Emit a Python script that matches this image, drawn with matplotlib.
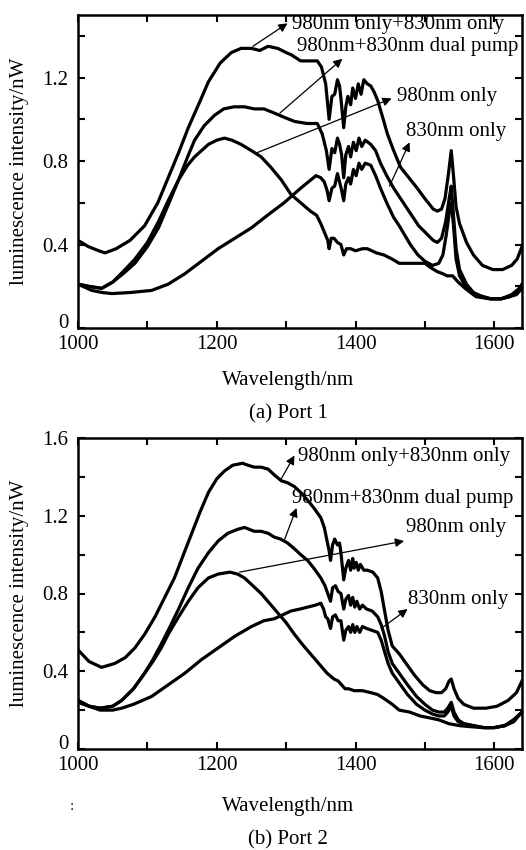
import matplotlib
matplotlib.use("Agg")
import matplotlib.pyplot as plt
import matplotlib.transforms as mtrans

plt.rcParams['font.family'] = ['Liberation Serif', 'DejaVu Serif']
plt.rcParams['mathtext.fontset'] = 'stix'

# ---------------- Port 1 data ----------------
p1_sum_wl = [1000,1015,1030,1039,1055,1075,1096,1115,1130,1145,1159,1175,1188,1205,1221,1235,1250,1262,1274,1288,
             1300,1307,1321,1335,1345,1351,1357,1362,1366,1370,1374,1377,1379,1383,1386,1389,1393,1396,1400,1404,
             1408,1412,1417,1422,1427,1432,1440,1446,1455,1465,1477,1489,1500,1512,1518,1524,1529,1534,1538,1541,
             1545,1550,1560,1570,1583,1598,1612,1625,1633,1640]
p1_sum = [0.42,0.39,0.37,0.36,0.38,0.42,0.49,0.60,0.72,0.84,0.96,1.08,1.18,1.27,1.32,1.34,1.34,1.33,1.35,1.34,
          1.32,1.31,1.28,1.28,1.28,1.25,1.17,1.00,1.11,1.12,1.19,1.16,1.10,0.96,1.06,1.11,1.07,1.15,1.10,1.17,
          1.12,1.19,1.17,1.16,1.13,1.09,1.00,0.93,0.85,0.77,0.72,0.67,0.62,0.57,0.56,0.57,0.62,0.74,0.85,0.74,
          0.58,0.50,0.41,0.35,0.30,0.28,0.28,0.30,0.33,0.39]

p1_dual_wl = [1000,1015,1034,1050,1065,1082,1100,1116,1130,1145,1158,1168,1182,1197,1210,1225,1240,1254,1268,1283,
              1297,1312,1330,1345,1352,1358,1362,1366,1370,1374,1377,1380,1383,1386,1390,1393,1397,1401,1405,1409,
              1414,1422,1429,1436,1445,1455,1467,1479,1491,1503,1512,1518,1524,1530,1535,1538,1541,1545,1550,1560,
              1570,1580,1595,1610,1622,1632,1640]
p1_dual = [0.21,0.20,0.19,0.22,0.26,0.31,0.39,0.48,0.59,0.71,0.82,0.90,0.97,1.02,1.05,1.06,1.06,1.05,1.05,1.03,
           1.01,0.99,0.98,0.98,0.93,0.85,0.76,0.86,0.84,0.91,0.88,0.83,0.72,0.83,0.87,0.82,0.89,0.85,0.91,0.87,
           0.90,0.88,0.85,0.79,0.73,0.67,0.61,0.55,0.49,0.45,0.42,0.41,0.43,0.51,0.62,0.68,0.55,0.38,0.28,0.21,
           0.17,0.155,0.14,0.14,0.15,0.17,0.21]

p1_980_wl = [1000,1015,1034,1050,1065,1082,1100,1116,1130,1145,1158,1168,1188,1200,1211,1222,1235,1250,1264,1278,
             1293,1307,1321,1335,1344,1350,1355,1360,1362,1365,1369,1374,1379,1383,1387,1393,1400,1410,1417,1430,
             1441,1453,1463,1480,1500,1508,1518,1526,1532,1540,1548,1558,1574,1593,1610,1625,1640]
p1_980 = [0.21,0.20,0.19,0.22,0.27,0.33,0.41,0.51,0.61,0.71,0.78,0.82,0.88,0.90,0.91,0.90,0.88,0.85,0.82,0.77,
          0.71,0.64,0.60,0.56,0.54,0.50,0.46,0.42,0.38,0.43,0.43,0.41,0.40,0.35,0.38,0.38,0.37,0.38,0.38,0.36,
          0.35,0.33,0.31,0.31,0.31,0.29,0.27,0.26,0.25,0.25,0.22,0.19,0.15,0.14,0.14,0.16,0.20]

p1_830_wl = [1000,1020,1035,1049,1075,1106,1130,1154,1178,1202,1226,1250,1273,1297,1321,1343,1350,1355,1359,1362,
             1366,1370,1374,1377,1380,1383,1386,1390,1393,1397,1401,1405,1409,1414,1422,1429,1436,1445,1455,1463,
             1479,1490,1500,1511,1520,1526,1531,1535,1538,1541,1545,1550,1560,1570,1580,1595,1610,1622,1632,1640]
p1_830 = [0.21,0.18,0.17,0.165,0.17,0.18,0.21,0.26,0.32,0.38,0.43,0.48,0.54,0.60,0.67,0.73,0.72,0.70,0.66,0.61,
          0.67,0.68,0.74,0.70,0.66,0.61,0.69,0.72,0.69,0.76,0.73,0.79,0.76,0.79,0.78,0.73,0.67,0.60,0.53,0.49,
          0.40,0.35,0.32,0.30,0.31,0.35,0.45,0.55,0.60,0.50,0.33,0.25,0.19,0.16,0.15,0.14,0.14,0.15,0.16,0.19]

# ---------------- Port 2 data ----------------
p2_sum_wl = [1000,1016,1034,1053,1068,1082,1096,1111,1125,1139,1152,1164,1176,1188,1200,1211,1223,1237,1245,1254,
             1264,1274,1283,1293,1302,1312,1321,1331,1340,1350,1355,1359,1362,1364,1367,1370,1374,1377,1379,1381,
             1383,1386,1390,1393,1396,1398,1401,1404,1407,1412,1417,1425,1432,1437,1442,1447,1453,1463,1473,1485,
             1497,1507,1516,1524,1530,1535,1538,1542,1548,1556,1570,1588,1604,1620,1632,1640]
p2_sum = [0.51,0.45,0.42,0.44,0.47,0.52,0.59,0.68,0.78,0.88,1.00,1.11,1.22,1.32,1.39,1.43,1.46,1.47,1.46,1.45,
          1.45,1.44,1.41,1.38,1.37,1.35,1.32,1.28,1.24,1.19,1.14,1.07,1.02,0.97,1.05,1.08,1.05,1.06,1.01,0.94,
          0.87,0.93,0.97,0.92,0.98,0.93,0.96,0.92,0.95,0.92,0.92,0.91,0.88,0.81,0.71,0.61,0.53,0.49,0.44,0.38,
          0.33,0.30,0.29,0.29,0.31,0.35,0.36,0.31,0.26,0.23,0.21,0.21,0.22,0.25,0.29,0.35]

p2_dual_wl = [1000,1016,1032,1050,1063,1080,1096,1108,1120,1130,1145,1159,1173,1188,1202,1216,1230,1240,1254,1264,
              1274,1283,1292,1302,1312,1321,1331,1340,1350,1356,1360,1364,1367,1371,1375,1379,1381,1383,1386,1390,
              1393,1396,1399,1402,1406,1410,1416,1424,1432,1437,1442,1447,1453,1463,1475,1488,1500,1511,1520,1528,
              1533,1538,1542,1548,1556,1570,1585,1600,1615,1628,1640]
p2_dual = [0.25,0.22,0.21,0.22,0.25,0.31,0.39,0.46,0.54,0.61,0.72,0.83,0.93,1.01,1.07,1.11,1.13,1.14,1.12,1.12,
           1.11,1.09,1.08,1.06,1.03,1.00,0.97,0.93,0.88,0.84,0.80,0.76,0.83,0.84,0.81,0.80,0.76,0.72,0.77,0.79,
           0.74,0.78,0.73,0.76,0.72,0.74,0.72,0.71,0.68,0.64,0.58,0.50,0.44,0.39,0.33,0.27,0.23,0.20,0.19,0.19,
           0.21,0.24,0.19,0.15,0.13,0.12,0.11,0.11,0.12,0.15,0.19]

p2_980_wl = [1000,1016,1032,1050,1063,1080,1096,1108,1120,1130,1145,1159,1173,1188,1202,1219,1230,1240,1252,1264,
             1276,1288,1300,1312,1323,1335,1347,1359,1369,1375,1380,1385,1390,1398,1410,1422,1432,1441,1453,1463,
             1478,1493,1507,1520,1535,1550,1565,1583,1600,1615,1628,1640]
p2_980 = [0.25,0.22,0.21,0.22,0.25,0.31,0.39,0.45,0.52,0.59,0.68,0.76,0.83,0.88,0.90,0.91,0.90,0.88,0.84,0.80,
          0.75,0.70,0.65,0.59,0.54,0.49,0.44,0.39,0.36,0.35,0.33,0.31,0.31,0.30,0.30,0.29,0.28,0.26,0.23,0.20,
          0.19,0.17,0.16,0.15,0.13,0.12,0.115,0.11,0.11,0.12,0.14,0.19]

p2_830_wl = [1000,1016,1032,1050,1063,1080,1106,1130,1154,1178,1202,1226,1250,1268,1283,1295,1307,1320,1331,1342,
             1350,1354,1357,1360,1364,1367,1371,1375,1379,1381,1383,1386,1390,1393,1396,1399,1402,1406,1410,1416,
             1424,1432,1437,1442,1447,1453,1463,1475,1488,1500,1511,1520,1528,1533,1538,1542,1548,1556,1570,1585,
             1600,1615,1628,1640]
p2_830 = [0.24,0.22,0.20,0.20,0.21,0.23,0.27,0.33,0.39,0.46,0.52,0.58,0.63,0.66,0.67,0.69,0.71,0.72,0.73,0.74,
          0.75,0.72,0.68,0.67,0.62,0.68,0.69,0.66,0.66,0.61,0.56,0.61,0.63,0.60,0.64,0.60,0.63,0.60,0.63,0.62,
          0.61,0.60,0.56,0.50,0.44,0.39,0.34,0.28,0.23,0.20,0.18,0.17,0.17,0.19,0.22,0.17,0.14,0.13,0.12,0.11,
          0.11,0.12,0.15,0.19]

labels = ["980nm only+830nm only", "980nm+830nm dual pump", "980nm only", "830nm only"]

x_ticks = [1000, 1100, 1200, 1300, 1400, 1500, 1600]
x_ticklabels = ["1000", "", "1200", "", "1400", "", "1600"]

W, H = 526, 850
fig = plt.figure(figsize=(W / 100, H / 100), dpi=100)

def axes_rect(left, top, right, bottom):
    return [left / W, 1 - bottom / H, (right - left) / W, (bottom - top) / H]

FS = 15

def style_axes(ax, ymax, yticks, yticklabels):
    ax.set_xlim(1000, 1640)
    ax.set_ylim(0, ymax)
    ax.set_xticks(x_ticks)
    ax.set_xticklabels(x_ticklabels)
    ax.set_yticks(yticks)
    ax.set_yticklabels(yticklabels)
    ax.tick_params(direction='in', length=5, width=1.5, top=True, right=True,
                   labelsize=FS, pad=7)
    ax.tick_params(axis='x', pad=5)
    for s in ax.spines.values():
        s.set_linewidth(1.8)
    ax.set_xlabel("Wavelength/nm", fontsize=FS)
    ax.set_ylabel("luminescence intensity/nW", fontsize=FS)
    ax.yaxis.label.set_va('center')
    ax.xaxis.label.set_va('center')
    # lift the "0" label a little so it does not collide with "1000"
    lab = ax.yaxis.get_major_ticks()[0].label1
    lab.set_transform(lab.get_transform() +
                      mtrans.ScaledTranslation(0, 5 / 72, fig.dpi_scale_trans))

def arrow(ax, tail, head):
    ax.annotate('', xy=head, xytext=tail,
                arrowprops=dict(arrowstyle='-|>', lw=0.9, color='black',
                                mutation_scale=13, shrinkA=0, shrinkB=0))

LW = 2.3

# ---------------- Panel (a) ----------------
ax1 = fig.add_axes(axes_rect(78, 15, 522, 328))
for wl, v in [(p1_sum_wl, p1_sum), (p1_dual_wl, p1_dual), (p1_980_wl, p1_980), (p1_830_wl, p1_830)]:
    ax1.plot(wl, v, color='black', lw=LW, solid_joinstyle='round')
style_axes(ax1, 1.5, [0, 0.2, 0.4, 0.6, 0.8, 1.0, 1.2, 1.4],
           ["0", "", "0.4", "", "0.8", "", "1.2", ""])
ax1.xaxis.set_label_coords(0.472, -(381 - 328) / 313)
ax1.yaxis.set_label_coords(-(78 - 20) / 444, 0.5)

arrow(ax1, (1252, 1.35), (1302, 1.46))
arrow(ax1, (1291, 1.03), (1381, 1.29))
arrow(ax1, (1258, 0.84), (1452, 1.10))
arrow(ax1, (1449, 0.68), (1478, 0.89))
ax1.text(1309, 1.455, labels[0], fontsize=FS, ha='left', va='center')
ax1.text(1315, 1.35, labels[1], fontsize=FS, ha='left', va='center')
ax1.text(1460, 1.11, labels[2], fontsize=FS, ha='left', va='center')
ax1.text(1473, 0.94, labels[3], fontsize=FS, ha='left', va='center')

# ---------------- Panel (b) ----------------
ax2 = fig.add_axes(axes_rect(78, 438, 522, 749))
for wl, v in [(p2_sum_wl, p2_sum), (p2_dual_wl, p2_dual), (p2_980_wl, p2_980), (p2_830_wl, p2_830)]:
    ax2.plot(wl, v, color='black', lw=LW, solid_joinstyle='round')
style_axes(ax2, 1.6, [0, 0.2, 0.4, 0.6, 0.8, 1.0, 1.2, 1.4, 1.6],
           ["0", "", "0.4", "", "0.8", "", "1.2", "", "1.6"])
ax2.xaxis.set_label_coords(0.472, -(806 - 749) / 311)
ax2.yaxis.set_label_coords(-(78 - 20) / 444, 0.5)

arrow(ax2, (1293, 1.39), (1312, 1.51))
arrow(ax2, (1298, 1.08), (1315, 1.24))
arrow(ax2, (1233, 0.91), (1470, 1.07))
arrow(ax2, (1437, 0.62), (1475, 0.72))
ax2.text(1317, 1.505, labels[0], fontsize=FS, ha='left', va='center')
ax2.text(1309, 1.29, labels[1], fontsize=FS, ha='left', va='center')
ax2.text(1473, 1.14, labels[2], fontsize=FS, ha='left', va='center')
ax2.text(1476, 0.77, labels[3], fontsize=FS, ha='left', va='center')

# captions
fig.text(288 / W, 1 - 414 / H, "(a) Port 1", fontsize=FS, ha='center', va='center')
fig.text(288 / W, 1 - 840 / H, "(b) Port 2", fontsize=FS, ha='center', va='center')
fig.text(72 / W, 1 - 806 / H, ":", fontsize=11, ha='center', va='center')

fig.savefig("out.png", dpi=100)
